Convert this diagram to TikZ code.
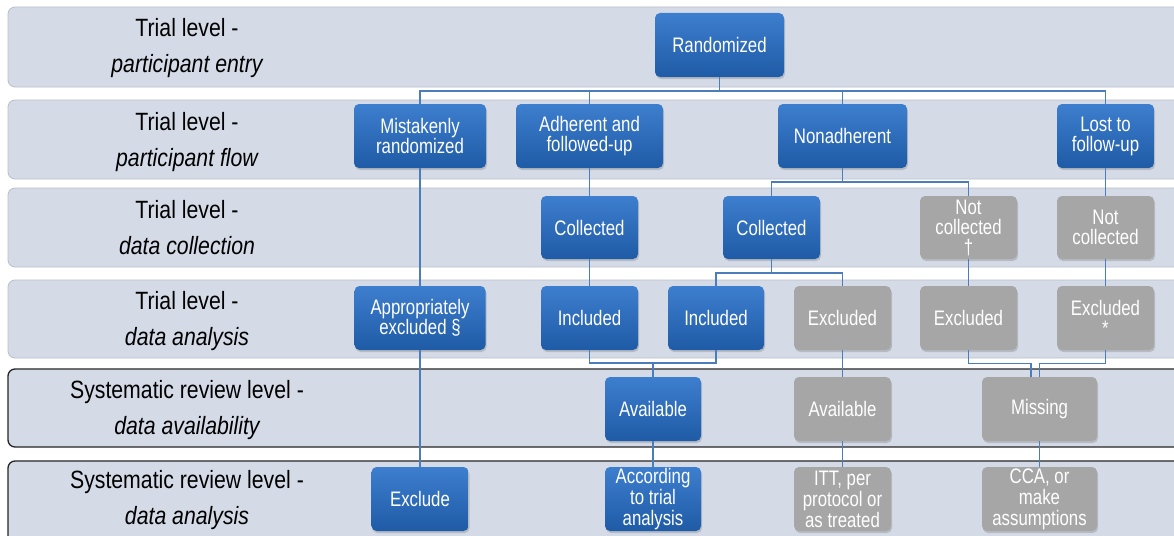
\documentclass[tikz,border=0pt]{standalone}
\usepackage{fontspec}
\setmainfont{Liberation Sans}
\newfontfamily\labfont{Liberation Sans}[FakeStretch=0.85]
\newfontfamily\boxfont{Liberation Sans}[FakeStretch=0.8]
\usetikzlibrary{shadows}
\definecolor{bandfill}{HTML}{D4DBE7}
\definecolor{bandedge}{HTML}{B9BFCA}
\definecolor{bluetop}{HTML}{3D7ECE}
\definecolor{bluebot}{HTML}{1F5BA6}
\definecolor{greyfill}{HTML}{A6A6A6}
\definecolor{linecol}{HTML}{4A7DBA}
\begin{document}
\begin{tikzpicture}[x=1pt,y=-1pt,
 band/.style={fill=bandfill, draw=bandedge, line width=0.8pt, rounded corners=7pt},
 darkband/.style={fill=bandfill, draw=black!85, line width=1.3pt, rounded corners=7pt},
 flowbox/.style={rounded corners=5pt, align=center, text=white, inner sep=0pt,
   minimum height=64pt, font=\boxfont\fontsize{21}{20}\selectfont,
   drop shadow={shadow xshift=1pt, shadow yshift=-2pt, opacity=.35}},
 bluebox/.style={flowbox, top color=bluetop, bottom color=bluebot},
 greybox/.style={flowbox, fill=greyfill},
 conn/.style={draw=linecol, line width=1.1pt},
 labtop/.style={anchor=base, font=\labfont\fontsize{25}{25}\selectfont},
 labbot/.style={anchor=base, font=\labfont\itshape\fontsize{25}{25}\selectfont},
]
\useasboundingbox (0,0) rectangle (1174,535);
\fill[white] (0,0) rectangle (1174,535);
% bands
\path[band] (8,7) rectangle (1190,87);
\path[band] (8,100) rectangle (1190,179);
\path[band] (8,188) rectangle (1190,267);
\path[band] (8,280) rectangle (1190,358);
\path[darkband] (8,369) rectangle (1190,447);
\path[darkband] (8,461) rectangle (1190,560);
% row labels
\node[labtop] (l1a) at (187,37) {Trial level -};
\node[labbot] (l1b) at (187,73) {participant entry};
\node[labtop] (l2a) at (187,130) {Trial level -};
\node[labbot] (l2b) at (187,166) {participant flow};
\node[labtop] (l3a) at (187,218) {Trial level -};
\node[labbot] (l3b) at (187,254) {data collection};
\node[labtop] (l4a) at (187,309) {Trial level -};
\node[labbot] (l4b) at (187,345) {data analysis};
\node[labtop] (l5a) at (187,398) {Systematic review level -};
\node[labbot] (l5b) at (187,434) {data availability};
\node[labtop] (l6a) at (187,488) {Systematic review level -};
\node[labbot] (l6b) at (187,524) {data analysis};
% row 1
\node[bluebox, minimum width=129pt] (rand) at (719.5,45) {Randomized};
% row 2
\node[bluebox, minimum width=132pt] (mist) at (420,136) {Mistakenly\\randomized};
\node[bluebox, minimum width=147pt] (adh) at (589.5,136) {Adherent and\\followed-up};
\node[bluebox, minimum width=129pt] (nonad) at (842.5,136) {Nonadherent};
\node[bluebox, minimum width=97pt] (lost) at (1105.5,136) {Lost to\\follow-up};
% row 3
\node[bluebox, minimum width=97pt, minimum height=63pt] (coll1) at (589.5,227.5) {Collected};
\node[bluebox, minimum width=97pt, minimum height=63pt] (coll2) at (771.5,227.5) {Collected};
\node[greybox, minimum width=97pt, minimum height=63pt] (notc1) at (968.5,227.5) {Not\\collected\\†};
\node[greybox, minimum width=97pt, minimum height=63pt] (notc2) at (1105.5,227.5) {Not\\collected};
% row 4
\node[bluebox, minimum width=131pt] (appr) at (420,318) {Appropriately\\excluded §};
\node[bluebox, minimum width=97pt] (incl1) at (589.5,318) {Included};
\node[bluebox, minimum width=96pt] (incl2) at (716,318) {Included};
\node[greybox, minimum width=97pt] (excl1) at (842.5,318) {Excluded};
\node[greybox, minimum width=97pt] (excl2) at (968.5,318) {Excluded};
\node[greybox, minimum width=97pt] (excl3) at (1105.5,318) {Excluded\\*};
% row 5
\node[bluebox, minimum width=96pt] (avail1) at (653,409) {Available};
\node[greybox, minimum width=97pt] (avail2) at (842.5,409) {Available};
\node[greybox, minimum width=115pt] (miss) at (1039.5,409) {Missing};
% row 6
\node[bluebox, minimum width=97pt] (excl) at (420,499) {Exclude};
\node[bluebox, minimum width=96pt, font=\boxfont\fontsize{21}{21}\selectfont] (acc) at (653,499) {According\\to trial\\analysis};
\node[greybox, minimum width=97pt, font=\boxfont\fontsize{21}{21}\selectfont] (itt) at (842.5,499) {ITT, per\\protocol or\\as treated};
\node[greybox, minimum width=115pt, font=\boxfont\fontsize{21}{21}\selectfont] (cca) at (1039.5,499) {CCA, or\\make\\assumptions};
% connectors
\coordinate (b1) at (719.5,91);
\draw[conn] (rand.south) -- (b1);
\draw[conn] (mist.north) |- (b1) -| (lost.north);
\draw[conn] (b1) -| (adh.north);
\draw[conn] (b1) -| (nonad.north);
\draw[conn] (mist.south) -- (appr.north);
\draw[conn] (appr.south) -- (excl.north);
\draw[conn] (adh.south) -- (coll1.north);
\draw[conn] (coll1.south) -- (incl1.north);
\coordinate (b2) at (842.5,182);
\draw[conn] (nonad.south) -- (b2);
\draw[conn] (coll2.north) |- (b2) -| (notc1.north);
\draw[conn] (lost.south) -- (notc2.north);
\draw[conn] (notc2.south) -- (excl3.north);
\coordinate (b3) at (771.5,273);
\draw[conn] (coll2.south) -- (b3);
\draw[conn] (incl2.north) |- (b3) -| (excl1.north);
\draw[conn] (notc1.south) -- (excl2.north);
\coordinate (b4) at (653,363);
\draw[conn] (incl1.south) |- (b4) -| (incl2.south);
\draw[conn] (b4) -- (avail1.north);
\draw[conn] (excl1.south) -- (avail2.north);
\draw[conn] (avail2.south) -- (itt.north);
\draw[conn] (excl2.south) -- ++(0,13) -| ([xshift=-8.5pt]miss.north);
\draw[conn] (excl3.south) -- ++(0,13) -| (miss.north);
\draw[conn] (miss.south) -- (cca.north);
\draw[conn] (avail1.south) -- (acc.north);
\end{tikzpicture}
\end{document}
